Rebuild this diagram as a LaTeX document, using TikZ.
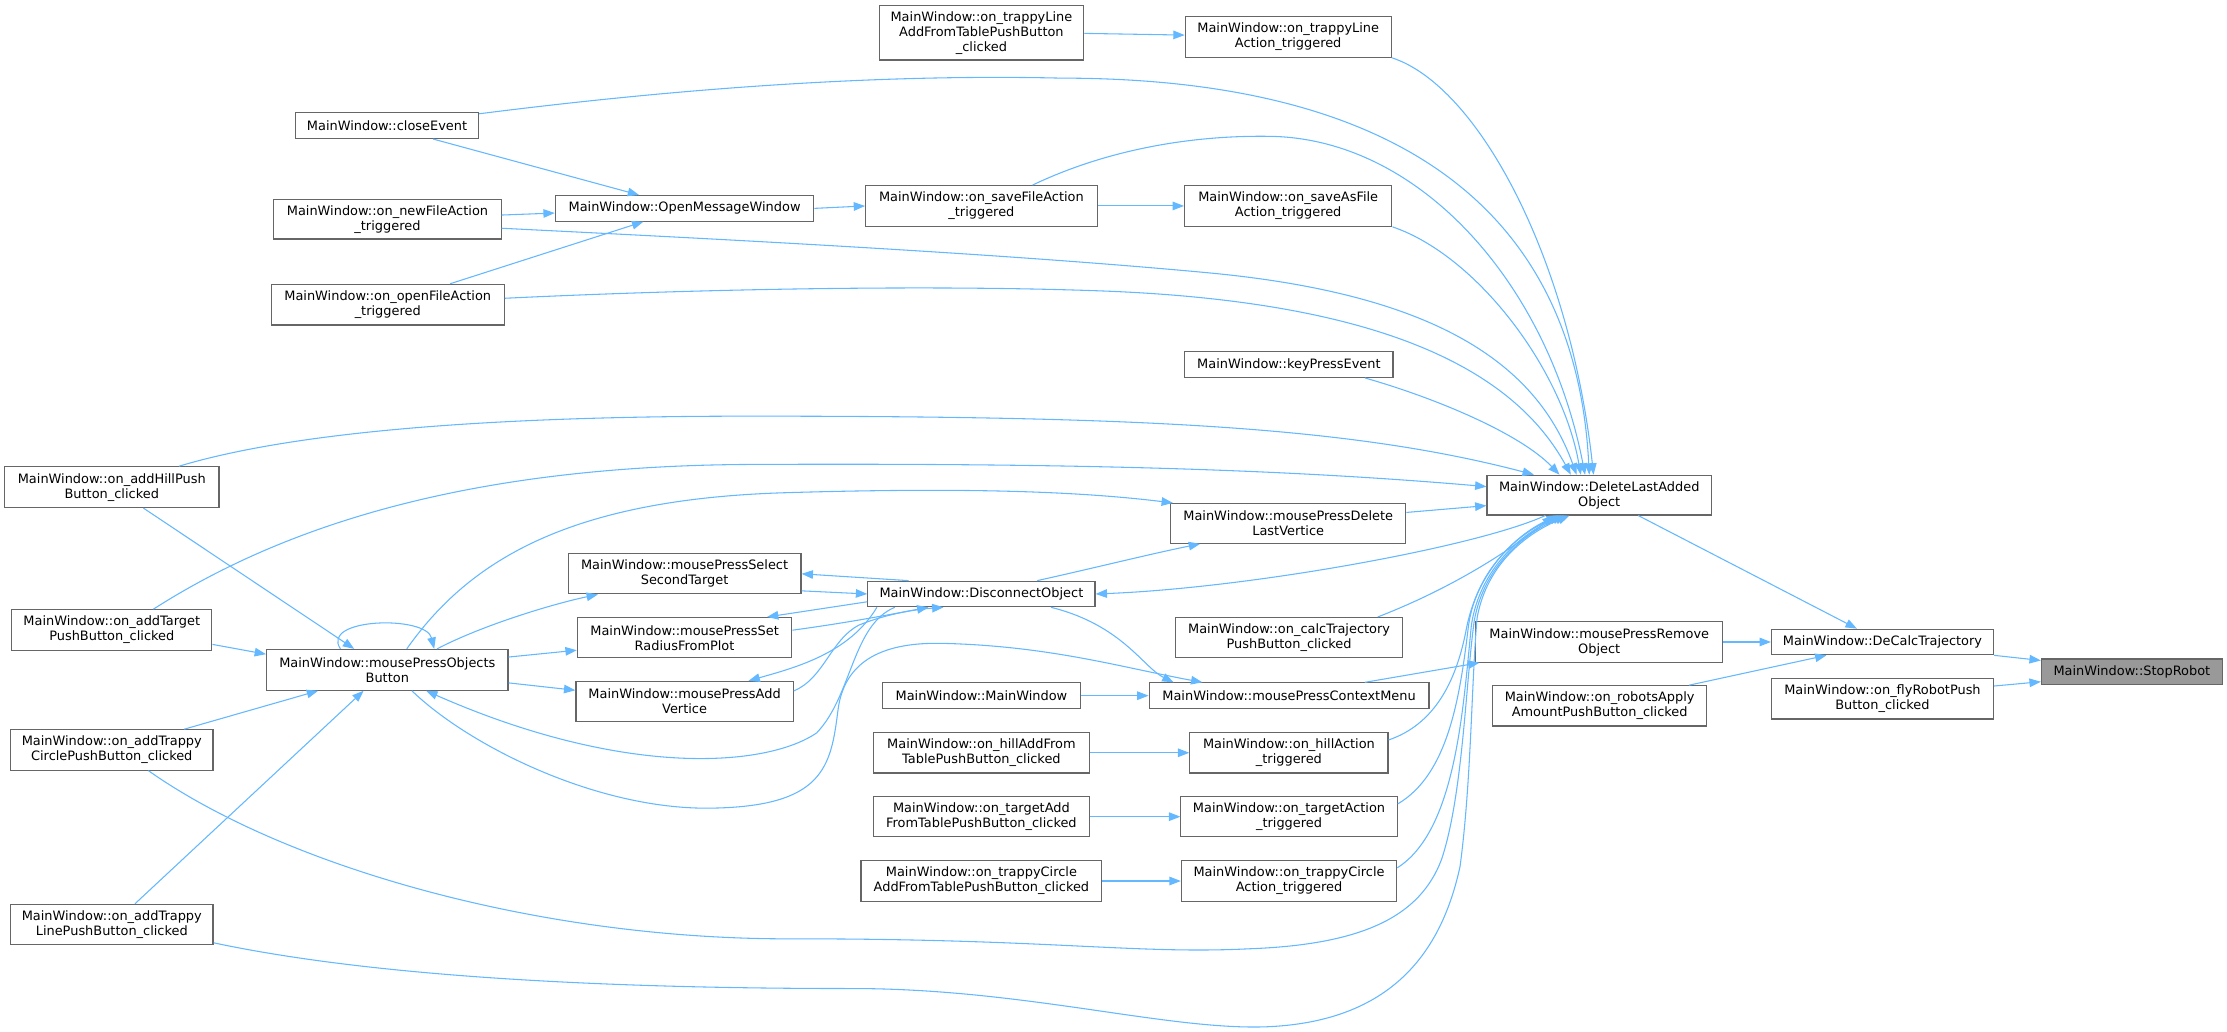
\documentclass[tikz,border=0pt]{standalone}
\usepackage{fontspec}
\setmainfont{DejaVu Sans}
\usetikzlibrary{arrows.meta}
\definecolor{edgec}{HTML}{63B8FF}
\definecolor{nodec}{HTML}{666666}
\definecolor{rootfill}{HTML}{999999}
\begin{document}
\begin{tikzpicture}[x=1pt,y=-1pt,
  fn/.style={draw=nodec, line width=0.8pt, inner sep=0pt, align=center,
    font=\fontsize{9.1}{10.6}\selectfont},
  e/.style={draw=edgec, line width=0.75pt, -{Triangle[length=8pt,width=6pt]}}]
\useasboundingbox[fill=white] (0,0) rectangle (1568,726.6);
% column 0
\node[fn,minimum width=151pt,minimum height=28.7pt] (addhill) at (78.7,343) {MainWindow::on\_addHillPush\\Button\_clicked};
\node[fn,minimum width=141pt,minimum height=28.4pt] (addtarget) at (78.7,443.5) {MainWindow::on\_addTarget\\PushButton\_clicked};
\node[fn,minimum width=142.6pt,minimum height=28.4pt] (atc) at (78.7,528) {MainWindow::on\_addTrappy\\CirclePushButton\_clicked};
\node[fn,minimum width=142.6pt,minimum height=28.5pt] (atl) at (78.7,651) {MainWindow::on\_addTrappy\\LinePushButton\_clicked};
% column 1
\node[fn,minimum width=129pt,minimum height=18pt] (close) at (272.5,88.5) {MainWindow::closeEvent};
\node[fn,minimum width=160pt,minimum height=28pt] (new) at (272.8,154.3) {MainWindow::on\_newFileAction\\\_triggered};
\node[fn,minimum width=164pt,minimum height=28.7pt] (open) at (273,214.5) {MainWindow::on\_openFileAction\\\_triggered};
\node[fn,minimum width=170pt,minimum height=28.7pt] (objects) at (272.7,471.6) {MainWindow::mousePressObjects\\Button};
% column 2
\node[fn,minimum width=182pt,minimum height=18pt] (om) at (482,146.7) {MainWindow::OpenMessageWindow};
\node[fn,minimum width=164pt,minimum height=28.3pt] (select) at (482,404) {MainWindow::mousePressSelect\\SecondTarget};
\node[fn,minimum width=151pt,minimum height=28.4pt] (setr) at (482,449) {MainWindow::mousePressSet\\RadiusFromPlot};
\node[fn,minimum width=153pt,minimum height=28.5pt] (addv) at (482,494) {MainWindow::mousePressAdd\\Vertice};
% column 3
\node[fn,minimum width=144pt,minimum height=38.5pt] (tla) at (691,23) {MainWindow::on\_trappyLine\\AddFromTablePushButton\\\_clicked};
\node[fn,minimum width=163pt,minimum height=28.6pt] (sf) at (691,145) {MainWindow::on\_saveFileAction\\\_triggered};
\node[fn,minimum width=160pt,minimum height=18pt] (disc) at (691,418.2) {MainWindow::DisconnectObject};
\node[fn,minimum width=139pt,minimum height=18pt] (mw) at (691,489.8) {MainWindow::MainWindow};
\node[fn,minimum width=152pt,minimum height=28.4pt] (hilladd) at (691,530) {MainWindow::on\_hillAddFrom\\TablePushButton\_clicked};
\node[fn,minimum width=152pt,minimum height=28.2pt] (tadd) at (691,575) {MainWindow::on\_targetAdd\\FromTablePushButton\_clicked};
\node[fn,minimum width=169.5pt,minimum height=28.4pt] (tcadd) at (691,620.3) {MainWindow::on\_trappyCircle\\AddFromTablePushButton\_clicked};
% column 4
\node[fn,minimum width=145pt,minimum height=28.5pt] (tlact) at (907,26) {MainWindow::on\_trappyLine\\Action\_triggered};
\node[fn,minimum width=146pt,minimum height=28.6pt] (sa) at (907,145) {MainWindow::on\_saveAsFile\\Action\_triggered};
\node[fn,minimum width=146.5pt,minimum height=18pt] (keypress) at (907.5,256.7) {MainWindow::keyPressEvent};
\node[fn,minimum width=165.5pt,minimum height=28pt] (dlv) at (907,368.5) {MainWindow::mousePressDelete\\LastVertice};
\node[fn,minimum width=160pt,minimum height=28.4pt] (calc) at (907.6,449) {MainWindow::on\_calcTrajectory\\PushButton\_clicked};
\node[fn,minimum width=197pt,minimum height=18pt] (ctx) at (907.6,489.8) {MainWindow::mousePressContextMenu};
\node[fn,minimum width=139.5pt,minimum height=28.4pt] (hillact) at (907.5,530) {MainWindow::on\_hillAction\\\_triggered};
\node[fn,minimum width=152.3pt,minimum height=28.2pt] (tact) at (907.6,575) {MainWindow::on\_targetAction\\\_triggered};
\node[fn,minimum width=151.6pt,minimum height=28.4pt] (tcact) at (907.6,620.3) {MainWindow::on\_trappyCircle\\Action\_triggered};
% column 5
\node[fn,minimum width=158pt,minimum height=28pt] (delete) at (1126,348.6) {MainWindow::DeleteLastAdded\\Object};
\node[fn,minimum width=174pt,minimum height=28.4pt] (remove) at (1126,452) {MainWindow::mousePressRemove\\Object};
\node[fn,minimum width=151pt,minimum height=28.4pt] (robots) at (1126.3,497) {MainWindow::on\_robotsApply\\AmountPushButton\_clicked};
% column 6
\node[fn,minimum width=156.3pt,minimum height=18pt] (decalc) at (1325.4,452) {MainWindow::DeCalcTrajectory};
\node[fn,minimum width=156.3pt,minimum height=28.4pt] (fly) at (1325.4,492) {MainWindow::on\_flyRobotPush\\Button\_clicked};
% column 7
\node[fn,fill=rootfill,minimum width=127.4pt,minimum height=18pt] (stop) at (1501,473) {MainWindow::StopRobot};

% ---- edges ----
\draw[e] (decalc.south east) -- ([yshift=8pt]stop.west);
\draw[e] ([yshift=9pt]fly.east) -- ([yshift=-7pt]stop.west);
\draw[e] (remove.east) -- (decalc.west);
\draw[e] ([xshift=63pt]robots.north) -- ([xshift=-39.4pt]decalc.south);
\draw[e] ([xshift=27.5pt]delete.south) -- ([xshift=-18pt]decalc.north);
\draw[e] ([xshift=53.4pt]ctx.north) -- ([xshift=3pt]remove.south west);
\draw[e] ([xshift=49pt]disc.south) .. controls (790,440) and (805,470) .. ([xshift=-81.3pt]ctx.north);
\draw[e] ([xshift=17.3pt]objects.south) .. controls (330,525) and (420,570) .. (500,569)
  .. controls (580,568) and (585,540) .. (590,500)
  .. controls (595,460) and (630,452) .. (665,453)
  .. controls (740,455) and (790,470) .. ([xshift=-61pt]ctx.north);
\draw[e] ([xshift=-61pt]disc.south) .. controls (600,440) and (600,490) .. (575,516)
  .. controls (540,540) and (440,548) .. ([xshift=27.3pt]objects.south);
\draw[e] (mw.east) -- (ctx.west);
\draw[e] (hilladd.east) -- (hillact.west);
\draw[e] (tadd.east) -- (tact.west);
\draw[e] (tcadd.east) -- (tcact.west);
\draw[e] ([yshift=-0.5pt]tla.east) -- ([yshift=1.3pt]tlact.west);
\draw[e] (sf.east) -- (sa.west);
\draw[e] (om.east) -- (sf.west);
\draw[e] ([xshift=32.5pt]close.south) -- ([xshift=-32pt]om.north);
\draw[e] ([yshift=2.9pt]new.east) -- ([yshift=-3.3pt]om.west);
\draw[e] ([xshift=44pt]open.north) -- ([xshift=-29pt]om.south);
\draw[e] ([xshift=22.3pt]addhill.south) -- ([xshift=-23.3pt]objects.north);
\draw[e] ([yshift=-10.2pt]addtarget.east) -- ([yshift=11pt]objects.west);
\draw[e] ([xshift=51pt]atc.north) -- ([xshift=-48.7pt]objects.south);
\draw[e] ([xshift=16.3pt]atl.north) -- ([xshift=-16.7pt]objects.south);
\draw[e] ([xshift=-33pt]objects.north) .. controls (225,435) and (300,433) .. ([xshift=33pt]objects.north);
\draw[e] ([xshift=35pt]objects.north) .. controls (340,440) and (390,425) .. ([xshift=-61pt]select.south);
\draw[e] ([yshift=9pt]objects.east) -- ([yshift=-8.8pt]setr.west);
\draw[e] ([yshift=-9.2pt]objects.east) -- ([yshift=8pt]addv.west);
\draw[e] ([xshift=13.7pt]objects.north) .. controls (330,395) and (400,352) .. (550,347)
  .. controls (680,343) and (760,346) .. ([xshift=2pt]dlv.north west);
\draw[e] ([xshift=-51.3pt]disc.north) -- (select.east);
\draw[e] ([yshift=-12pt]select.east) -- (disc.west);
\draw[e] ([yshift=-5.5pt]disc.west) -- ([xshift=58pt]setr.north);
\draw[e] ([yshift=5.3pt]setr.east) .. controls (600,438) and (630,432) .. ([xshift=-37.3pt]disc.south);
\draw[e] ([xshift=-73.6pt]disc.south) .. controls (598,460) and (560,470) .. ([xshift=45pt]addv.north);
\draw[e] ([yshift=7.6pt]addv.east) .. controls (580,478) and (585,450) .. (605,440)
  .. controls (625,432) and (645,429) .. ([xshift=-26.7pt]disc.south);
\draw[e] ([xshift=39.3pt]disc.north) .. controls (770,400) and (810,390) .. ([xshift=-62pt]dlv.south);
\draw[e] ([xshift=-38pt]delete.south) .. controls (1040,385) and (880,414) .. (disc.east);
\draw[e] ([yshift=7.7pt]dlv.east) -- ([yshift=-7.4pt]delete.west);
\draw[e] ([xshift=29.3pt]addtarget.north) .. controls (200,370) and (330,328) .. (528,327)
  .. controls (750,326) and (900,330) .. ([yshift=6pt]delete.west);
\draw[e] ([xshift=47.3pt]addhill.north) .. controls (220,300) and (380,293) .. (528,293)
  .. controls (800,293) and (950,300) .. ([xshift=-46pt]delete.north);
\draw[e] ([xshift=53.5pt]keypress.south) .. controls (1010,280) and (1070,305) .. ([xshift=-28pt]delete.north);
\draw[e] ([yshift=4.5pt]open.east) .. controls (480,204) and (650,200) .. (780,205)
  .. controls (950,212) and (1060,250) .. ([xshift=-20pt]delete.north);
\draw[e] ([yshift=-6.4pt]new.east) .. controls (500,168) and (700,178) .. (850,192)
  .. controls (1000,206) and (1080,250) .. ([xshift=-16pt]delete.north);
\draw[e] ([xshift=36pt]sf.north) .. controls (780,105) and (840,95) .. (895,96)
  .. controls (1000,98) and (1090,200) .. ([xshift=-10pt]delete.north);
\draw[e] (sa.south east) .. controls (1040,180) and (1100,260) .. ([xshift=-13pt]delete.north);
\draw[e] ([yshift=-1pt]close.north east) .. controls (480,62) and (620,52) .. (747,55)
  .. controls (1000,55) and (1110,160) .. ([xshift=-7pt]delete.north);
\draw[e] (tlact.south east) .. controls (1040,60) and (1105,180) .. ([xshift=-4pt]delete.north);
\draw[e] ([xshift=62.4pt]calc.north) .. controls (1020,415) and (1060,390) .. ([xshift=-32pt]delete.south);
\draw[e] ([yshift=9pt]hillact.east) .. controls (1010,510) and (1025,480) .. (1032,445)
  .. controls (1040,400) and (1070,375) .. ([xshift=-29pt]delete.south);
\draw[e] ([yshift=9pt]tact.east) .. controls (1020,545) and (1028,490) .. (1034,440)
  .. controls (1040,400) and (1070,375) .. ([xshift=-27pt]delete.south);
\draw[e] ([yshift=9.3pt]tcact.east) .. controls (1025,585) and (1030,500) .. (1036,440)
  .. controls (1042,400) and (1072,375) .. ([xshift=-25pt]delete.south);
\draw[e] ([xshift=25.8pt]atc.south) .. controls (200,610) and (380,662) .. (560,661)
  .. controls (740,661) and (800,672) .. (880,668)
  .. controls (960,665) and (1000,645) .. (1015,605)
  .. controls (1030,560) and (1032,480) .. (1038,437)
  .. controls (1045,398) and (1074,375) .. ([xshift=-23pt]delete.south);
\draw[e] ([yshift=-12.8pt]atl.east) .. controls (250,685) and (400,696) .. (600,696)
  .. controls (720,696) and (820,725) .. (890,723)
  .. controls (980,720) and (1015,670) .. (1028,610)
  .. controls (1036,550) and (1036,480) .. (1040,435)
  .. controls (1047,396) and (1076,375) .. ([xshift=-21pt]delete.south);
\end{tikzpicture}
\end{document}
